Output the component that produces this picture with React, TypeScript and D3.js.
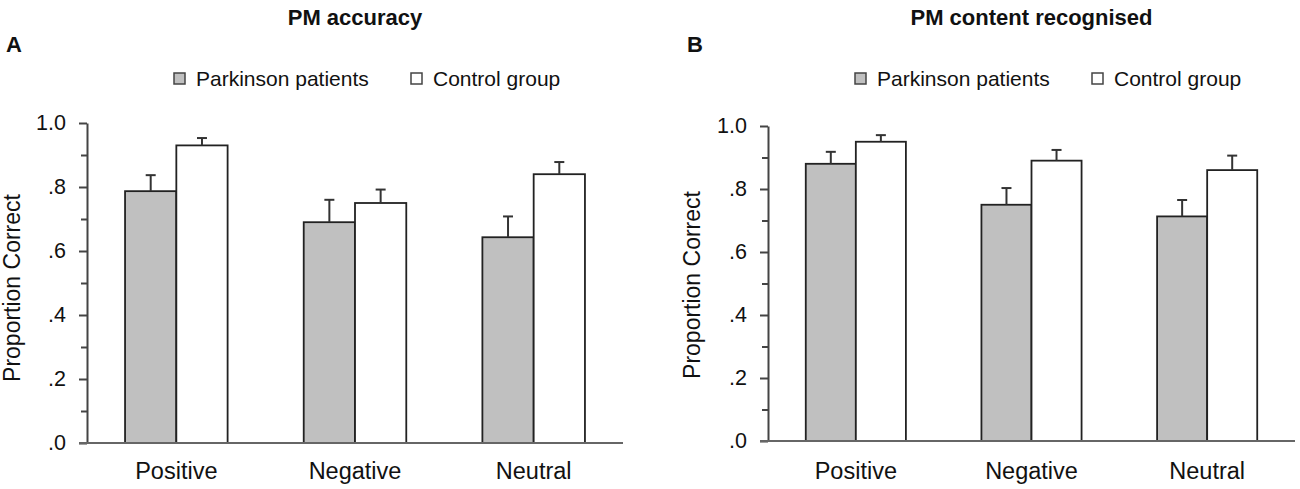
import React from 'react';
import * as d3 from 'd3';

const categories = ['Positive', 'Negative', 'Neutral'];
const groups = ['Parkinson patients', 'Control group'];

const accuracyPD = [0.787, 0.69, 0.643];
const accuracyPDErr = [0.05, 0.07, 0.065];
const accuracyControl = [0.93, 0.75, 0.84];
const accuracyControlErr = [0.023, 0.042, 0.038];

const recognisedPD = [0.88, 0.75, 0.713];
const recognisedPDErr = [0.038, 0.053, 0.052];
const recognisedControl = [0.95, 0.89, 0.86];
const recognisedControlErr = [0.021, 0.034, 0.046];

const yTicks = [0, 0.2, 0.4, 0.6, 0.8, 1.0];
const yMinorTicks = [0.1, 0.3, 0.5, 0.7, 0.9];

const FONT = '"Liberation Sans", Arial, sans-serif';
const GRAY = '#c0c0c0';

interface Panel {
  letter: string;
  title: string;
  left: number;
  right: number;
  top: number;
  bottom: number;
  pad: number;
  series: { values: number[]; errors: number[] }[];
}

const panels: Panel[] = [
  {
    letter: 'A',
    title: 'PM accuracy',
    left: 87,
    right: 623,
    top: 123,
    bottom: 443,
    pad: 0.426,
    series: [
      { values: accuracyPD, errors: accuracyPDErr },
      { values: accuracyControl, errors: accuracyControlErr }
    ]
  },
  {
    letter: 'B',
    title: 'PM content recognised',
    left: 768,
    right: 1295,
    top: 126,
    bottom: 441,
    pad: 0.43,
    series: [
      { values: recognisedPD, errors: recognisedPDErr },
      { values: recognisedControl, errors: recognisedControlErr }
    ]
  }
];

const fmt = (d: number) => (d === 1 ? '1.0' : d3.format('.1f')(d).replace(/^0/, ''));

const App: React.FC = () => {
  const ref = React.useRef<SVGSVGElement>(null);

  React.useEffect(() => {
    const svg = d3.select(ref.current);
    svg.selectAll('*').remove();

    panels.forEach((p, pi) => {
      const g = svg.append('g');

      const x0 = d3
        .scaleBand<string>()
        .domain(categories)
        .range([p.left, p.right])
        .paddingInner(p.pad)
        .paddingOuter(p.pad / 2);
      const x1 = d3.scaleBand<number>().domain([0, 1]).range([0, x0.bandwidth()]);
      const y = d3.scaleLinear().domain([0, 1]).range([p.bottom, p.top]);

      // panel letter and title
      g.append('text')
        .attr('x', pi === 0 ? 6 : 687)
        .attr('y', 52)
        .attr('font-family', FONT)
        .attr('font-weight', 'bold')
        .attr('font-size', 22)
        .attr('fill', '#111')
        .text(p.letter);

      g.append('text')
        .attr('x', (p.left + p.right) / 2)
        .attr('y', 25)
        .attr('text-anchor', 'middle')
        .attr('font-family', FONT)
        .attr('font-weight', 'bold')
        .attr('font-size', 22)
        .attr('fill', '#111')
        .text(p.title);

      // legend
      const lx = p.left + 87;
      groups.forEach((name, i) => {
        const ox = lx + i * 237;
        g.append('rect')
          .attr('x', ox)
          .attr('y', 73)
          .attr('width', 11)
          .attr('height', 11)
          .attr('fill', i === 0 ? GRAY : '#fff')
          .attr('stroke', '#444')
          .attr('stroke-width', 1.5);
        g.append('text')
          .attr('x', ox + 22)
          .attr('y', 86)
          .attr('font-family', FONT)
          .attr('font-size', 21)
          .attr('fill', '#111')
          .text(name);
      });

      // bars
      p.series.forEach((s, si) => {
        g.selectAll(`.bar${si}`)
          .data(categories)
          .enter()
          .append('rect')
          .attr('x', (c) => (x0(c) as number) + (x1(si) as number))
          .attr('y', (c, i) => y(s.values[i]))
          .attr('width', x1.bandwidth())
          .attr('height', (c, i) => p.bottom - y(s.values[i]))
          .attr('fill', si === 0 ? GRAY : '#fff')
          .attr('stroke', '#222')
          .attr('stroke-width', 1.8);

        // error bars (upper only)
        categories.forEach((c, i) => {
          const cx = (x0(c) as number) + (x1(si) as number) + x1.bandwidth() / 2;
          const yTop = y(s.values[i] + s.errors[i]);
          g.append('line')
            .attr('x1', cx)
            .attr('x2', cx)
            .attr('y1', y(s.values[i]))
            .attr('y2', yTop)
            .attr('stroke', '#333')
            .attr('stroke-width', 2);
          g.append('line')
            .attr('x1', cx - 5)
            .attr('x2', cx + 5)
            .attr('y1', yTop)
            .attr('y2', yTop)
            .attr('stroke', '#333')
            .attr('stroke-width', 2);
        });
      });

      // y axis with major labels
      const yAxis = g
        .append('g')
        .attr('transform', `translate(${p.left},0)`)
        .call(d3.axisLeft(y).tickValues(yTicks).tickFormat((d) => fmt(d as number)).tickSize(8).tickPadding(13).tickSizeOuter(0));
      yAxis.select('.domain').attr('stroke', '#444').attr('stroke-width', 2);
      yAxis.selectAll('.tick line').attr('stroke', '#444').attr('stroke-width', 2);
      yAxis
        .selectAll('.tick text')
        .attr('font-family', FONT)
        .attr('font-size', 21.5)
        .attr('fill', '#111');

      const yMinor = g
        .append('g')
        .attr('transform', `translate(${p.left},0)`)
        .call(d3.axisLeft(y).tickValues(yMinorTicks).tickFormat(() => '').tickSize(6).tickSizeOuter(0));
      yMinor.select('.domain').remove();
      yMinor.selectAll('.tick line').attr('stroke', '#444').attr('stroke-width', 2);

      // x axis
      g.append('line')
        .attr('x1', p.left - 8)
        .attr('x2', p.right)
        .attr('y1', p.bottom)
        .attr('y2', p.bottom)
        .attr('stroke', '#666')
        .attr('stroke-width', 2);

      g.selectAll('.xlabel')
        .data(categories)
        .enter()
        .append('text')
        .attr('x', (c) => (x0(c) as number) + x0.bandwidth() / 2)
        .attr('y', 479)
        .attr('text-anchor', 'middle')
        .attr('font-family', FONT)
        .attr('font-size', 23.5)
        .attr('fill', '#111')
        .text((c) => c);

      // y axis title
      g.append('text')
        .attr('transform', `translate(${pi === 0 ? 20 : 700},${pi === 0 ? 288 : 285}) rotate(-90)`)
        .attr('text-anchor', 'middle')
        .attr('font-family', FONT)
        .attr('font-size', 23)
        .attr('fill', '#111')
        .text('Proportion Correct');
    });
  }, []);

  return (
    <svg
      ref={ref}
      width={1300}
      height={489}
      style={{ position: 'absolute', left: 0, top: 0, background: '#fff', display: 'block' }}
    />
  );
};

export default App;
